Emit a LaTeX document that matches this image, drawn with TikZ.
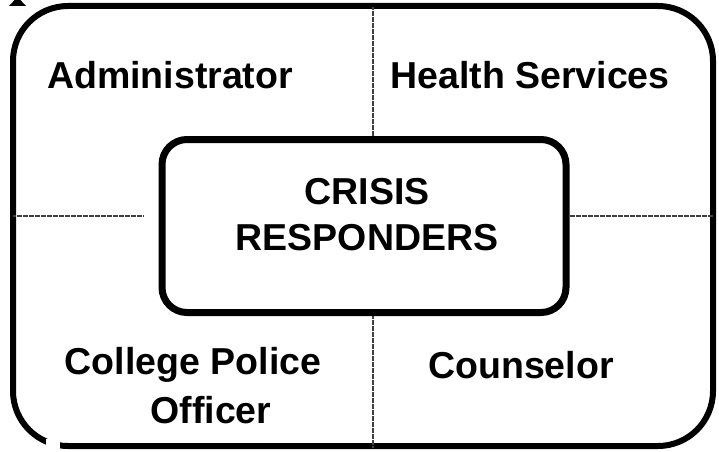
\documentclass[tikz,border=0pt]{standalone}
\usepackage{fontspec}
\setmainfont{Liberation Sans}
\begin{document}
\begin{tikzpicture}[x=1pt,y=1pt,
    frame/.style={draw,line width=6pt,rounded corners=55pt},
    core/.style={draw,line width=7pt,rounded corners=25pt},
    divider/.style={draw=black!75,line width=1.2pt,dash pattern=on 0.8pt off 0.4pt},
    role/.style={font=\fontsize{37.5}{46}\selectfont\bfseries,inner sep=0pt}]
      \useasboundingbox (0,0) rectangle (719,451);
      \node[frame,minimum width=700pt,minimum height=440pt] (outer) at (363,225) {};
      \node[core,minimum width=404pt,minimum height=173pt] (inner) at (364,225) {};
      \coordinate (ltop) at (373,451-7);
      \coordinate (lbot) at (373,451-447);
      \coordinate (hl) at (13,235);
      \coordinate (hr) at (713,235);
      \coordinate (hlend) at (143,235);
      \begin{scope}[divider]
        \draw (ltop) -- (ltop |- inner.north);
        \draw (lbot |- inner.south) -- (lbot);
        \draw (hl) -- (hlend);
        \draw (hr -| inner.east) -- (hr);
      \end{scope}
      \fill[white] (46,0) rectangle (60,12);
      \fill (9,451-6) -- (26,451-6) -- (17.5,454) -- cycle;
      \node[role] (admin) at (170,451-75) {Administrator};
      \node[role] (health) at (530,451-75) {Health Services};
      \node[role,align=center] (crisis) at (367,451-215) {CRISIS\\RESPONDERS};
      \node[role] (police) at (193,451-365) {College Police};
      \node[role] (officer) at (211,451-410) {Officer};
      \node[role] (counsel) at (521,451-365) {Counselor};
    \end{tikzpicture}
\end{document}
